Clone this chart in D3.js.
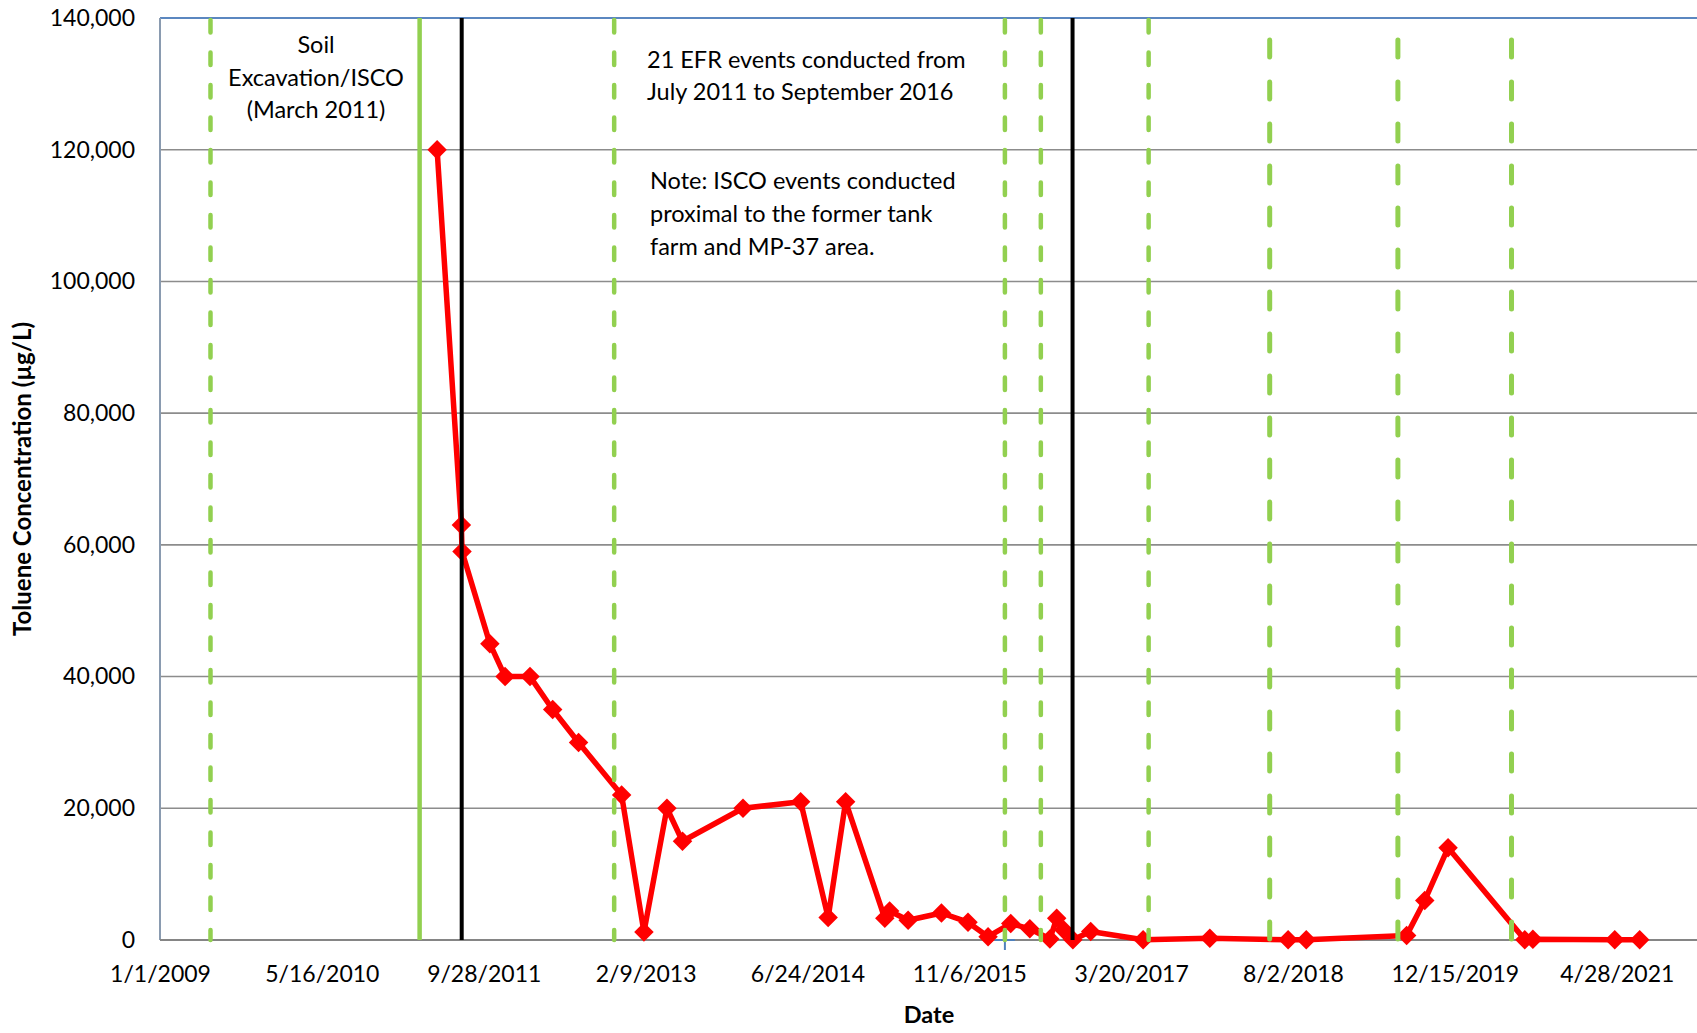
<!DOCTYPE html>
<html>
<head>
<meta charset="utf-8">
<script src="https://cdn.jsdelivr.net/npm/d3@7"></script>
<style>
body{margin:0;background:#fff}
text{font-family:Lato,"Open Sans",sans-serif;fill:#000}
</style>
</head>
<body>
<div class="chart"></div>
<script>
// sample dates and toluene results (ug/L)
var sampleDates = ["2011-05-07","2011-07-21","2011-07-23","2011-10-17","2011-12-03","2012-02-18","2012-04-28","2012-07-17","2012-11-27","2013-02-04",
	"2013-04-16","2013-06-03","2013-12-07","2014-06-03","2014-08-27","2014-10-20","2015-02-18","2015-03-05","2015-05-01","2015-08-12",
	"2015-11-02","2016-01-03","2016-03-13","2016-05-11","2016-07-12","2016-08-02","2016-08-24","2016-09-21","2016-11-15","2017-04-26",
	"2017-11-18","2018-07-18","2018-09-12","2019-07-19","2019-09-13","2019-11-24","2020-07-18","2020-08-12","2021-04-22","2021-07-08"];
var toluene = [120000,63000,59000,45000,40000,40000,35000,30000,22000,1200,
	20000,15000,20000,21000,3400,21000,3300,4400,3000,4100,
	2700,500,2500,1700,150,3300,1500,50,1300,50,
	250,30,30,700,6000,14000,50,100,30,30];

// event lines
var shortDashDates = ["2009-06-06","2012-11-04","2016-02-24","2016-06-14","2017-05-13"];
var longDashDates = ["2018-05-22","2019-06-22","2020-06-07"];
var excavationDates = ["2011-03-14"];
var efrDates = ["2011-07-22","2016-09-20"];
var crossDates = ["2016-02-24"];
var crossValues = [0];

var xTickDates = ["2009-01-01","2010-05-16","2011-09-28","2013-02-09","2014-06-24","2015-11-06","2017-03-20","2018-08-02","2019-12-15","2021-04-28"];
var yTicks = [0,20000,40000,60000,80000,100000,120000,140000];

var soilNote = ["Soil","Excavation/ISCO","(March 2011)"];
var efrNote = ["21 EFR events conducted from","July 2011 to September 2016"];
var iscoNote = ["Note: ISCO events conducted","proximal to the former tank","farm and MP-37 area."];

var parse = d3.utcParse("%Y-%m-%d");
var fmt = d3.utcFormat("%-m/%-d/%Y");

var width = 1697, height = 1033;
var plotLeft = 160, plotTop = 18, plotBottom = 940;
var svg = d3.select(".chart").append("svg").attr("width",width).attr("height",height)

var x = d3.scaleUtc().domain([parse("2009-01-01"),parse("2022-01-01")]).range([plotLeft,width])
var y = d3.scaleLinear().domain([0,140000]).range([plotBottom,plotTop])

// gridlines
svg.append("g").selectAll("line").data(yTicks.slice(1,-1)).enter().append("line")
	.attr("x1",plotLeft).attr("x2",width)
	.attr("y1",function(d){return y(d)}).attr("y2",function(d){return y(d)})
	.attr("stroke","#8c8c8c").attr("stroke-width",1.6)
svg.append("line").attr("x1",plotLeft).attr("x2",width).attr("y1",y(140000)).attr("y2",y(140000))
	.attr("stroke","#5b87c0").attr("stroke-width",2)
svg.append("line").attr("x1",plotLeft).attr("x2",plotLeft).attr("y1",plotTop).attr("y2",plotBottom)
	.attr("stroke","#8a9bb0").attr("stroke-width",2)
svg.append("line").attr("x1",plotLeft).attr("x2",width).attr("y1",y(0)).attr("y2",y(0))
	.attr("stroke","#858585").attr("stroke-width",2.2)

// series
var data = sampleDates.map(function(d,i){return {date:parse(d),value:toluene[i]}})
var line = d3.line().x(function(d){return x(d.date)}).y(function(d){return y(d.value)})
svg.append("path").datum(data).attr("d",line)
	.attr("fill","none").attr("stroke","#ff0000").attr("stroke-width",5.5).attr("stroke-linejoin","round")
svg.append("g").selectAll("path").data(data).enter().append("path")
	.attr("d",d3.symbol().type(d3.symbolSquare).size(190))
	.attr("transform",function(d){return "translate("+x(d.date)+","+y(d.value)+") rotate(45)"})
	.attr("fill","#ff0000")

// blue cross marker
svg.append("g").selectAll("g").data(crossDates).enter().append("g")
	.attr("transform",function(d,i){return "translate("+x(parse(d))+","+y(crossValues[i])+")"})
	.each(function(){
		var g = d3.select(this)
		g.append("line").attr("x1",-10).attr("x2",10).attr("stroke","#4f81bd").attr("stroke-width",2)
		g.append("line").attr("y1",-9).attr("y2",10).attr("stroke","#4f81bd").attr("stroke-width",2)
	})

// event lines
svg.append("g").selectAll("line").data(shortDashDates).enter().append("line")
	.attr("x1",function(d){return x(parse(d))}).attr("x2",function(d){return x(parse(d))})
	.attr("y1",plotTop+2).attr("y2",plotBottom)
	.attr("stroke","#92d050").attr("stroke-width",4.5).attr("stroke-linecap","round")
	.attr("stroke-dasharray","12.5,20")
svg.append("g").selectAll("line").data(longDashDates).enter().append("line")
	.attr("x1",function(d){return x(parse(d))}).attr("x2",function(d){return x(parse(d))})
	.attr("y1",40).attr("y2",plotBottom)
	.attr("stroke","#92d050").attr("stroke-width",5).attr("stroke-linecap","round")
	.attr("stroke-dasharray","17,25")
svg.append("g").selectAll("line").data(excavationDates).enter().append("line")
	.attr("x1",function(d){return x(parse(d))}).attr("x2",function(d){return x(parse(d))})
	.attr("y1",plotTop).attr("y2",plotBottom)
	.attr("stroke","#92d050").attr("stroke-width",4.5)
svg.append("g").selectAll("line").data(efrDates).enter().append("line")
	.attr("x1",function(d){return x(parse(d))}).attr("x2",function(d){return x(parse(d))})
	.attr("y1",plotTop).attr("y2",plotBottom)
	.attr("stroke","#000").attr("stroke-width",4)

// axes
var yAxis = svg.append("g").attr("transform","translate("+plotLeft+",0)")
	.call(d3.axisLeft(y).tickValues(yTicks).tickSize(0).tickPadding(25).tickFormat(d3.format(",")))
yAxis.select(".domain").remove()
yAxis.selectAll("text").style("font-size","23px").attr("font-family",null)

var xAxis = svg.append("g").attr("transform","translate(0,"+plotBottom+")")
	.call(d3.axisBottom(x).tickValues(xTickDates.map(parse)).tickSize(0).tickPadding(26).tickFormat(fmt))
xAxis.select(".domain").remove()
xAxis.selectAll("text").style("font-size","23px").attr("font-family",null)

svg.append("text").attr("x",929).attr("y",1023).attr("text-anchor","middle")
	.style("font-size","23.5px").style("font-weight","bold").text("Date")
svg.append("text").attr("transform","translate(31,479) rotate(-90)").attr("text-anchor","middle")
	.style("font-size","24px").style("font-weight","bold").text("Toluene Concentration (µg/L)")

// notes
svg.append("g").selectAll("text").data(soilNote).enter().append("text")
	.attr("x",316).attr("y",function(d,i){return 53+i*32.5}).attr("text-anchor","middle")
	.style("font-size","23.5px").text(function(d){return d})
svg.append("g").selectAll("text").data(efrNote).enter().append("text")
	.attr("x",647).attr("y",function(d,i){return 68+i*32}).style("font-size","23.5px").text(function(d){return d})
svg.append("g").selectAll("text").data(iscoNote).enter().append("text")
	.attr("x",650).attr("y",function(d,i){return 189+i*33}).style("font-size","23.5px").text(function(d){return d})
</script>
</body>
</html>
